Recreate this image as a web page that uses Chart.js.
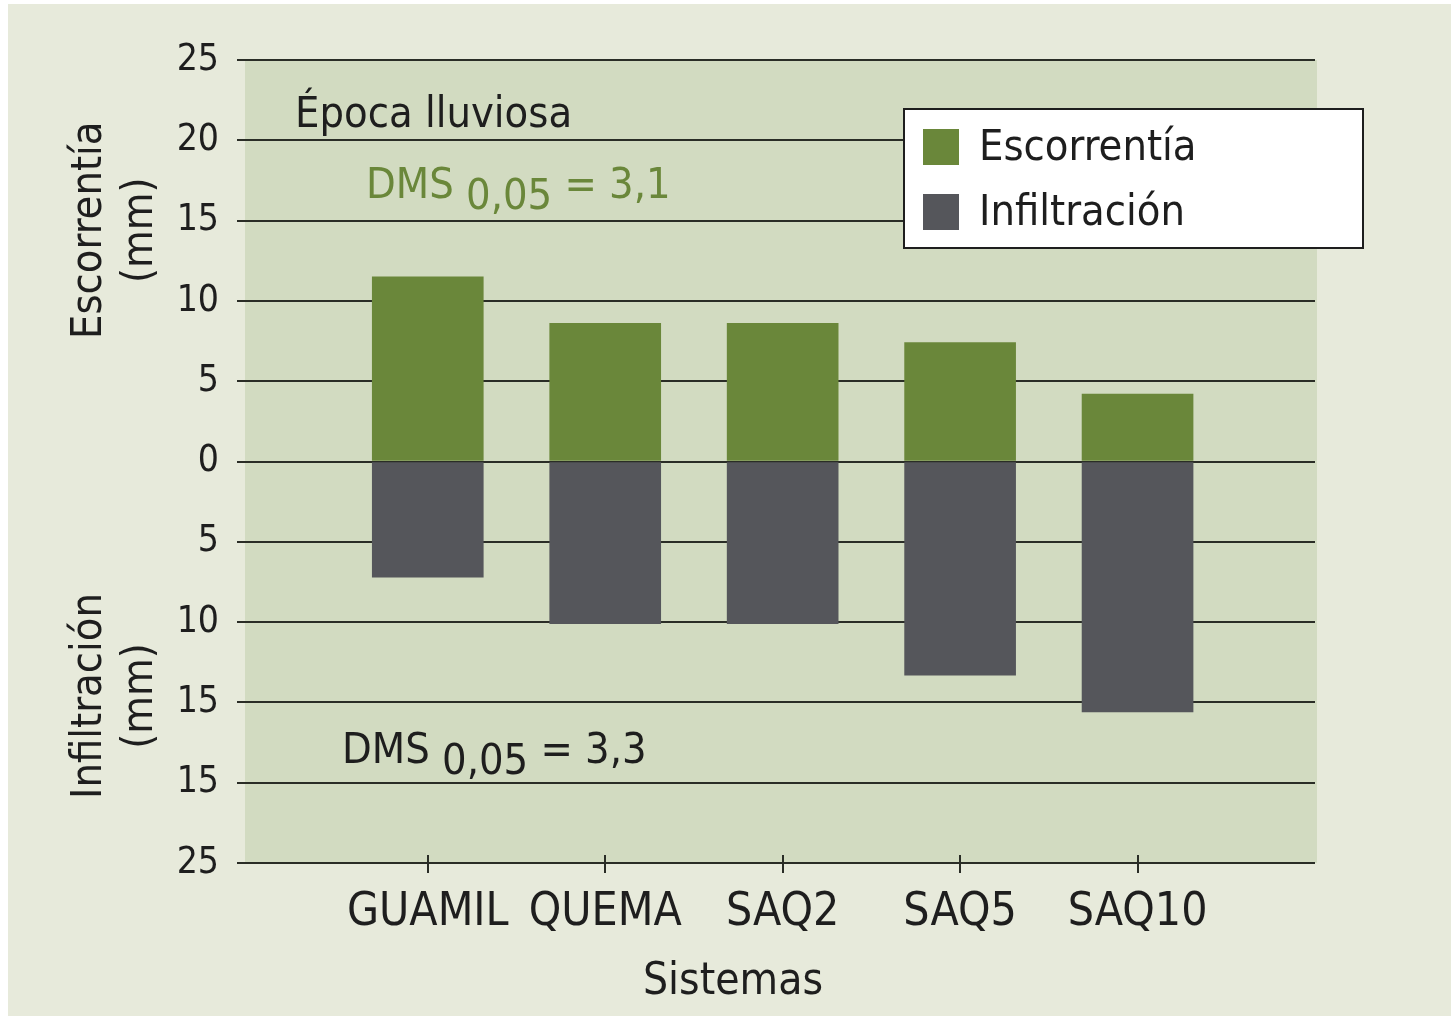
<!DOCTYPE html>
<html>
<head>
<meta charset="utf-8">
<script src="https://cdn.jsdelivr.net/npm/chart.js@4.4.1/dist/chart.umd.min.js"></script>
<style>
  html, body { margin: 0; padding: 0; background: #ffffff; }
  #wrap { width: 1451px; height: 1016px; position: relative; }
</style>
</head>
<body>
<div id="wrap"><canvas id="runoffChart"></canvas></div>
<script>
const sistemas = ['GUAMIL', 'QUEMA', 'SAQ2', 'SAQ5', 'SAQ10'];
const escorrentia = [11.5, 8.6, 8.6, 7.4, 4.2];
const infiltracion = [7.2, 10.1, 10.1, 13.3, 15.6];

// bottom to top, as printed on the axis
const yTickValues = [-25, -20, -15, -10, -5, 0, 5, 10, 15, 20, 25];
const yTickLabels = ['25', '15', '15', '10', '5', '0', '5', '10', '15', '20', '25'];

const FONT = "'DejaVu Sans Condensed', 'Liberation Sans Narrow', sans-serif";
const GREEN = '#6a873a';
const DARK = '#55565b';
const GRID = '#2a2d26';
const TEXT = '#1e1e1e';

Chart.defaults.font.family = FONT;
Chart.defaults.color = TEXT;

const backdrop = {
    id: 'backdrop',
    beforeDraw(chart) {
        const { ctx, chartArea: a, width, height } = chart;
        ctx.save();
        ctx.fillStyle = '#ffffff';
        ctx.fillRect(0, 0, width, height);
        ctx.fillStyle = '#e7eadb';
        ctx.fillRect(8, 4, width - 8, height - 4);
        ctx.fillStyle = '#d2dbc1';
        ctx.fillRect(a.left, a.top, a.right - a.left + 2, a.bottom - a.top);
        ctx.restore();
    }
};

function drawSubText(ctx, x, y, main, sub, tail, color) {
    ctx.fillStyle = color;
    ctx.textAlign = 'left';
    ctx.textBaseline = 'alphabetic';
    ctx.fillText(main, x, y);
    let cx = x + ctx.measureText(main + ' ').width;
    ctx.fillText(sub, cx, y + 11);
    cx += ctx.measureText(sub + ' ').width;
    ctx.fillText(tail, cx, y);
}

const annotations = {
    id: 'annotations',
    afterDraw(chart) {
        const { ctx, chartArea: a } = chart;
        const y = chart.scales.y;
        const x = chart.scales.x;
        ctx.save();

        // x ticks cross the bottom line
        ctx.strokeStyle = GRID;
        ctx.lineWidth = 2;
        x.ticks.forEach(t => {
            const px = Math.round(x.getPixelForValue(t.value));
            ctx.beginPath();
            ctx.moveTo(px, a.bottom - 8);
            ctx.lineTo(px, a.bottom);
            ctx.stroke();
        });

        // x axis title, sits left of the plot centre in the original
        ctx.font = `44px ${FONT}`;
        ctx.fillStyle = TEXT;
        ctx.textAlign = 'center';
        ctx.textBaseline = 'middle';
        ctx.fillText('Sistemas', x.getPixelForValue(2.72), a.bottom + 120);

        ctx.font = `43px ${FONT}`;
        ctx.textAlign = 'left';
        ctx.textBaseline = 'alphabetic';
        ctx.fillText('Época lluviosa', a.left + 50, y.getPixelForValue(20.8));

        drawSubText(ctx, a.left + 121, y.getPixelForValue(16.4), 'DMS', '0,05', '= 3,1', GREEN);
        drawSubText(ctx, a.left + 97, y.getPixelForValue(-18.8), 'DMS', '0,05', '= 3,3', TEXT);

        // vertical axis titles
        ctx.fillStyle = TEXT;
        ctx.textAlign = 'center';
        ctx.textBaseline = 'middle';
        [['Escorrentía', 14.4], ['Infiltración', -14.6]].forEach(([label, v]) => {
            const py = y.getPixelForValue(v);
            ctx.save();
            ctx.translate(a.left - 155, py);
            ctx.rotate(-Math.PI / 2);
            ctx.fillText(label, 0, 0);
            ctx.restore();
            ctx.save();
            ctx.translate(a.left - 104, py);
            ctx.rotate(-Math.PI / 2);
            ctx.fillText('(mm)', 0, 0);
            ctx.restore();
        });

        // legend box
        const bx = a.right - 411, by = a.top + 49, bw = 459, bh = 139;
        ctx.fillStyle = '#ffffff';
        ctx.fillRect(bx, by, bw, bh);
        ctx.strokeStyle = '#1e1e1e';
        ctx.lineWidth = 2;
        ctx.strokeRect(bx, by, bw, bh);
        ctx.textAlign = 'left';
        ctx.textBaseline = 'middle';
        chart.data.datasets.forEach((ds, i) => {
            const rowY = by + 38 + i * 65;
            ctx.fillStyle = ds.backgroundColor;
            ctx.fillRect(bx + 19, rowY - 18, 36, 36);
            ctx.fillStyle = TEXT;
            ctx.fillText(ds.label, bx + 75, rowY + 2);
        });
        ctx.restore();
    }
};

new Chart(document.getElementById('runoffChart'), {
    type: 'bar',
    data: {
        datasets: [{
            label: 'Escorrentía',
            data: escorrentia.map((v, i) => ({ x: i + 1, y: v })),
            backgroundColor: GREEN,
            barThickness: 111
        }, {
            label: 'Infiltración',
            data: infiltracion.map((v, i) => ({ x: i + 1, y: -v })),
            backgroundColor: DARK,
            barThickness: 111
        }]
    },
    options: {
        responsive: true,
        maintainAspectRatio: false,
        animation: false,
        layout: { padding: { top: 60, right: 136, left: 0, bottom: 0 } },
        plugins: {
            legend: { display: false },
            tooltip: { enabled: false }
        },
        scales: {
            x: {
                type: 'linear',
                min: -0.03,
                max: 6,
                offset: false,
                stacked: true,
                afterBuildTicks: (scale) => {
                    scale.ticks = sistemas.map((_, i) => ({ value: i + 1 }));
                },
                afterFit: (scale) => { scale.height = 153; },
                ticks: {
                    callback: (value) => sistemas[value - 1],
                    font: { size: 46 },
                    color: TEXT,
                    padding: 12,
                    maxRotation: 0,
                    autoSkip: false
                },
                grid: {
                    offset: false,
                    drawOnChartArea: false,
                    color: GRID,
                    lineWidth: 2,
                    tickLength: 10
                },
                border: { display: false }
            },
            y: {
                min: -25,
                max: 25,
                stacked: true,
                z: 1,
                afterFit: (scale) => { scale.width = 245; },
                afterBuildTicks: (scale) => {
                    scale.ticks = yTickValues.map(v => ({ value: v }));
                },
                ticks: {
                    callback: (value) => yTickLabels[yTickValues.indexOf(value)],
                    font: { size: 37 },
                    color: TEXT,
                    padding: 18
                },
                grid: {
                    color: GRID,
                    lineWidth: 2,
                    tickLength: 8
                },
                border: { display: false }
            }
        }
    },
    plugins: [backdrop, annotations]
});
</script>
</body>
</html>
